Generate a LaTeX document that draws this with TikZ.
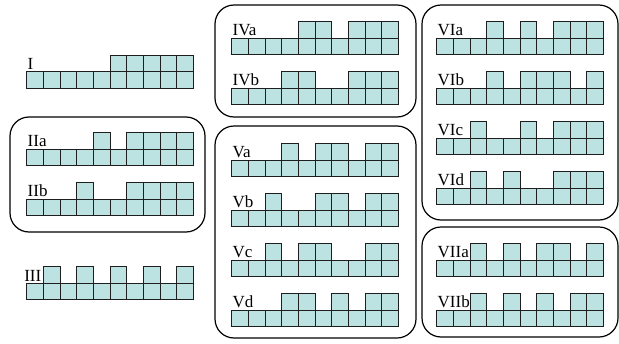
\documentclass[tikz,border=0pt]{standalone}
\usepackage{fontspec}
\setmainfont{Liberation Serif}
\definecolor{cellfill}{RGB}{188,226,226}
\definecolor{celldraw}{RGB}{30,30,30}
\tikzset{
  cell/.style={draw=celldraw, fill=cellfill, line width=1pt},
  grp/.style={draw=black, line width=1.2pt, rounded corners=19pt},
  lab/.style={inner sep=0pt, font=\fontsize{17}{19}\selectfont}
}
\newcommand\cs{16.67}
% #1 x, #2 y of the top of the bottom row, #3 node name, #4 label, #5 raised cells
\newcommand\blockrow[5]{%
  \foreach \i in {0,...,9} \draw[cell] ({#1+\i*\cs},#2) rectangle ++(\cs,\cs);
  \foreach \i in {#5} \draw[cell] ({#1+\i*\cs},{#2-\cs}) rectangle ++(\cs,\cs);
  \node[lab, anchor=base west] (#3) at ({#1+0.8},{#2-2.6}) {#4};
}
\begin{document}
\begin{tikzpicture}[x=1pt,y=-1pt]
\useasboundingbox (0,0) rectangle (619,343);
% group boxes
\draw[grp] (10,117) rectangle (205,232);
\draw[grp] (215,5) rectangle (416,117);
\draw[grp] (215,126) rectangle (416,338);
\draw[grp] (422,5) rectangle (618,220);
\draw[grp] (422,227) rectangle (618,337);
% rows
\blockrow{26.7}{71.7}{lI}{I}{5,6,7,8,9}
\blockrow{26.7}{149.3}{lIIa}{IIa}{4,6,7,8,9}
\blockrow{26.7}{199.3}{lIIb}{IIb}{3,6,7,8,9}
\foreach \i in {0,...,9} \draw[cell] ({26.7+\i*\cs},283.3) rectangle ++(\cs,\cs);
\foreach \i in {1,3,5,7,9} \draw[cell] ({26.7+\i*\cs},{283.3-\cs}) rectangle ++(\cs,\cs);
\node[lab, anchor=base east] (lIII) at (41.5,281) {III};
\blockrow{231.7}{38.3}{lIVa}{IVa}{4,5,7,8,9}
\blockrow{231.7}{88.3}{lIVb}{IVb}{3,4,7,8,9}
\blockrow{231.7}{160}{lVa}{Va}{3,5,6,8,9}
\blockrow{231.7}{210}{lVb}{Vb}{2,5,6,8,9}
\blockrow{231.7}{260}{lVc}{Vc}{2,4,5,8,9}
\blockrow{231.7}{310}{lVd}{Vd}{3,4,6,8,9}
\blockrow{436.7}{38.3}{lVIa}{VIa}{3,5,7,8,9}
\blockrow{436.7}{88.3}{lVIb}{VIb}{3,5,6,7,9}
\blockrow{436.7}{138.3}{lVIc}{VIc}{2,5,7,8,9}
\blockrow{436.7}{188.3}{lVId}{VId}{2,4,7,8,9}
\blockrow{436.7}{260}{lVIIa}{VIIa}{2,4,6,7,9}
\blockrow{436.7}{310}{lVIIb}{VIIb}{2,4,6,8,9}
\end{tikzpicture}
\end{document}
